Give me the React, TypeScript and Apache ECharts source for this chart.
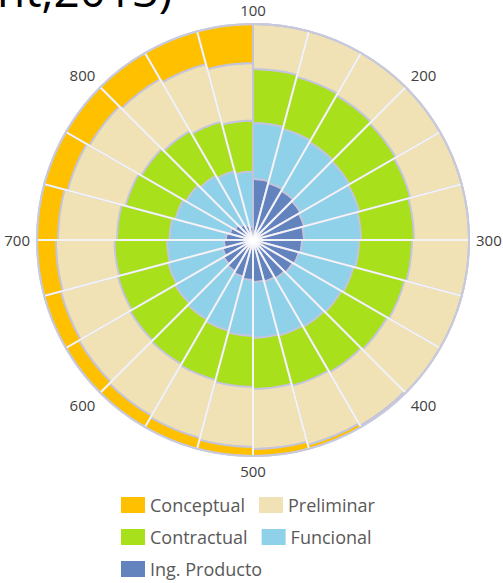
import React, { useEffect, useRef } from 'react';
import * as echarts from 'echarts';

// 24 angular sectors (15° each), clockwise from the top
const sectors = ['1','2','3','4','5','6','7','8','9','10','11','12','13','14','15','16','17','18','19','20','21','22','23','24'];
// angular scale labels
const angleTicks = [100, 200, 300, 400, 500, 600, 700, 800];
const angleMin = 100;
const angleMax = 900;

// radial thickness of each band in each sector (inner to outer)
const ingProducto = [61, 59, 57, 55, 53, 51, 49, 47.5, 46, 44.5, 43, 42, 40, 38, 36, 34, 31.5, 29, 27, 24, 21, 18, 15.5, 13];
const funcional = [56, 56, 56, 56.5, 57, 57, 57, 56.5, 56, 56, 56, 56, 56, 56, 56, 56, 56.5, 57, 56.5, 56.5, 56.5, 56.5, 56, 55.5];
const contractual = [54, 54, 54, 53.5, 53, 53, 53, 53, 53, 52.5, 52, 51, 51, 51, 51.5, 52, 52, 52.5, 52.5, 51.5, 51.5, 51.5, 51, 51];
const preliminar = [45, 47, 49, 51, 53, 55, 57, 59, 61, 61.5, 61, 60, 60, 60, 59.5, 59, 59, 58.5, 59, 60, 60, 60, 59.5, 57.5];
const conceptual = [0, 0, 0, 0, 0, 0, 0, 0, 0, 1.5, 4, 7, 9, 11, 13, 15, 17, 19, 21, 24, 27, 30, 34, 39];
const radiusMax = 216;

const legendOrder = ['Conceptual', 'Preliminar', 'Contractual', 'Funcional', 'Ing. Producto'];
const stackOrder: [string, number[], string][] = [
  ['Ing. Producto', ingProducto, '#6383BF'],
  ['Funcional', funcional, '#8FD1E8'],
  ['Contractual', contractual, '#A9E01C'],
  ['Preliminar', preliminar, '#F1E2B5'],
  ['Conceptual', conceptual, '#FFC000'],
];

export default function App() {
  const ref = useRef<HTMLDivElement>(null);
  useEffect(() => {
    if (!ref.current) return;
    const chart = echarts.init(ref.current, null, { renderer: 'svg' });
    const center = [253, 240];
    const spokeColors = sectors.map((_, i) => (i === 0 ? 'rgba(255,255,255,0)' : 'rgba(255,255,255,0.8)'));
    chart.setOption({
      animation: false,
      backgroundColor: '#ffffff',
      graphic: [
        {
          type: 'text',
          x: -3,
          y: 12,
          z: 20,
          style: {
            text: 'nt,2013)',
            font: '46px "Open Sans"',
            fill: '#000000',
            verticalAlign: 'bottom',
          },
        },
      ],
      polar: [
        { center, radius: radiusMax },
        { center, radius: radiusMax },
      ],
      angleAxis: [
        {
          polarIndex: 0,
          type: 'category',
          data: sectors,
          startAngle: 90,
          clockwise: true,
          boundaryGap: true,
          axisLine: { show: false },
          axisTick: { show: false },
          axisLabel: { show: false },
          splitLine: { show: true, lineStyle: { color: spokeColors, width: 2 } },
          z: 5,
        },
        {
          polarIndex: 1,
          type: 'value',
          min: angleMin,
          max: angleMax,
          interval: 100,
          startAngle: 90,
          clockwise: true,
          axisLine: { show: true, lineStyle: { color: '#c9c9dc', width: 2 } },
          axisTick: { show: false },
          splitLine: { show: false },
          axisLabel: {
            margin: 7,
            color: '#404040',
            fontSize: 15,
            fontFamily: 'Open Sans',
            formatter: (v: number) => (angleTicks.indexOf(v) >= 0 ? String(v) : ''),
          },
          z: 6,
        },
      ],
      radiusAxis: [
        { polarIndex: 0, type: 'value', min: 0, max: radiusMax, show: false },
        { polarIndex: 1, type: 'value', min: 0, max: radiusMax, show: false },
      ],
      legend: {
        data: legendOrder,
        left: 116,
        top: 491,
        width: 310,
        itemWidth: 24,
        itemHeight: 16,
        itemGap: 14,
        icon: 'rect',
        selectedMode: false,
        itemStyle: { borderWidth: 0 },
        textStyle: { fontFamily: 'Open Sans', fontSize: 18, color: '#595959', width: 114 },
      },
      series: stackOrder.map(([name, values, color]) => ({
        name,
        type: 'bar',
        coordinateSystem: 'polar',
        polarIndex: 0,
        stack: 'spiral',
        data: values,
        barCategoryGap: '0%',
        itemStyle: { color, borderColor: '#c4c4dc', borderWidth: 1.8 },
        emphasis: { disabled: true },
      })),
    });
    return () => chart.dispose();
  }, []);
  return <div ref={ref} style={{ position: 'fixed', left: 0, top: 0, width: 503, height: 583 }} />;
}
